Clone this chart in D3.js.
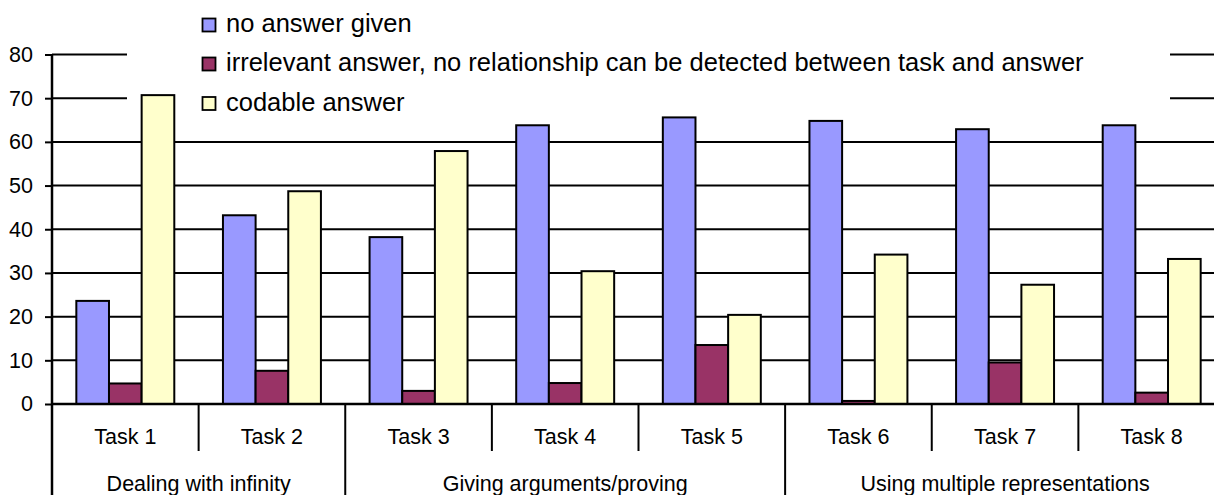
<!DOCTYPE html>
<html>
<head>
<meta charset="utf-8">
<script src="https://cdn.jsdelivr.net/npm/d3@7"></script>
<style>
  html, body { margin: 0; padding: 0; background: #fff; }
  svg { display: block; font-family: Arial, "Liberation Sans", sans-serif; }
</style>
</head>
<body>
<svg id="chart" width="1214" height="495"></svg>
<script>
// Task categories and their thematic groups
const tasks = ["Task 1", "Task 2", "Task 3", "Task 4", "Task 5", "Task 6", "Task 7", "Task 8"];
const groups = ["Dealing with infinity", "Giving arguments/proving", "Using multiple representations"];
const groupSizes = [2, 3, 3];

// Series
const seriesNames = [
  "no answer given",
  "irrelevant answer, no relationship can be detected between task and answer",
  "codable answer"
];
const noAnswer   = [23.6, 43.2, 38.2, 63.8, 65.6, 64.8, 62.9, 63.8];
const irrelevant = [4.7, 7.6, 3.0, 4.8, 13.5, 0.7, 9.5, 2.6];
const codable    = [70.7, 48.7, 57.9, 30.4, 20.4, 34.2, 27.3, 33.2];
const seriesColors = ["#9999FF", "#993366", "#FFFFCC"];

const yTicks = [0, 10, 20, 30, 40, 50, 60, 70, 80];

const svg = d3.select("#chart");
const AXIS_FONT = 21.5;
const LEGEND_FONT = 25.5;

const plotLeft = 52, plotRight = 1225, plotTop = 54.5, plotBottom = 404;

const x = d3.scaleBand().domain(tasks).range([plotLeft, plotRight]).padding(0);
const xs = d3.scaleBand().domain(d3.range(seriesNames.length))
  .range([0, x.bandwidth()]).paddingInner(0).paddingOuter(0.745);
const y = d3.scaleLinear().domain([0, 80]).range([plotBottom, plotTop]);

// Horizontal gridlines
svg.append("g")
  .selectAll("line")
  .data(yTicks.filter(d => d > 0))
  .join("line")
  .attr("x1", plotLeft).attr("x2", plotRight)
  .attr("y1", d => y(d)).attr("y2", d => y(d))
  .attr("stroke", "#000").attr("stroke-width", 2);

// Legend backdrop (sits over the gridlines, under the bars)
svg.append("rect")
  .attr("x", 127).attr("y", 0).attr("width", 1170 - 127).attr("height", 122)
  .attr("fill", "#fff");

// Bars
const allSeries = [noAnswer, irrelevant, codable];
const barG = svg.append("g");
tasks.forEach((t, i) => {
  allSeries.forEach((vals, s) => {
    barG.append("rect")
      .attr("x", x(t) + xs(s))
      .attr("y", y(vals[i]))
      .attr("width", xs.bandwidth())
      .attr("height", y(0) - y(vals[i]))
      .attr("fill", seriesColors[s])
      .attr("stroke", "#000")
      .attr("stroke-width", 2);
  });
});

// Y axis
const yAxis = d3.axisLeft(y).tickValues(yTicks).tickSize(7).tickPadding(12);
const ya = svg.append("g").attr("transform", `translate(${plotLeft},0)`).call(yAxis);
ya.select(".domain").remove();
ya.selectAll(".tick line").attr("stroke", "#000").attr("stroke-width", 2);
ya.selectAll(".tick text").attr("font-size", AXIS_FONT).attr("font-family", "Arial, 'Liberation Sans', sans-serif").attr("fill", "#000");
svg.append("line")
  .attr("x1", plotLeft).attr("x2", plotLeft)
  .attr("y1", plotTop).attr("y2", plotBottom)
  .attr("stroke", "#000").attr("stroke-width", 2.5);

// X axis baseline
svg.append("line")
  .attr("x1", plotLeft).attr("x2", plotRight)
  .attr("y1", plotBottom).attr("y2", plotBottom)
  .attr("stroke", "#000").attr("stroke-width", 2.5);

// Task labels and separators
const catG = svg.append("g");
catG.selectAll("text")
  .data(tasks)
  .join("text")
  .attr("x", d => x(d) + x.bandwidth() / 2)
  .attr("y", 444)
  .attr("text-anchor", "middle")
  .attr("font-size", AXIS_FONT)
  .text(d => d);

// Group boundaries (in task index units)
const groupEdges = [0];
groupSizes.forEach(n => groupEdges.push(groupEdges[groupEdges.length - 1] + n));
const edgeX = k => k < tasks.length ? x(tasks[k]) : plotRight;

d3.range(1, tasks.length).filter(k => !groupEdges.includes(k)).forEach(k => {
  catG.append("line")
    .attr("x1", edgeX(k)).attr("x2", edgeX(k))
    .attr("y1", plotBottom).attr("y2", 451)
    .attr("stroke", "#000").attr("stroke-width", 2);
});
groupEdges.forEach(k => {
  catG.append("line")
    .attr("x1", edgeX(k)).attr("x2", edgeX(k))
    .attr("y1", plotBottom).attr("y2", 495)
    .attr("stroke", "#000").attr("stroke-width", k === 0 ? 2.5 : 2);
});
groups.forEach((g, i) => {
  const a = edgeX(groupEdges[i]), b = edgeX(groupEdges[i + 1]);
  catG.append("text")
    .attr("x", (a + b) / 2)
    .attr("y", 491)
    .attr("text-anchor", "middle")
    .attr("font-size", AXIS_FONT)
    .text(g);
});

// Legend
const legendBaselines = [32, 71, 110.5];
const lg = svg.append("g");
seriesNames.forEach((name, s) => {
  lg.append("rect")
    .attr("x", 202.5).attr("y", legendBaselines[s] - 13.5)
    .attr("width", 13).attr("height", 13)
    .attr("fill", seriesColors[s])
    .attr("stroke", "#000").attr("stroke-width", 1.8);
  lg.append("text")
    .attr("x", 226).attr("y", legendBaselines[s])
    .attr("font-size", LEGEND_FONT)
    .text(name);
});
</script>
</body>
</html>
